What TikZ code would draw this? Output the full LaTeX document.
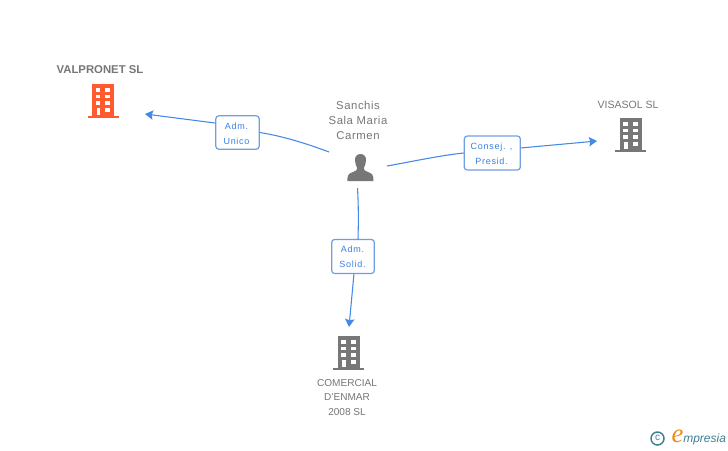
\documentclass[tikz,border=0pt]{standalone}
\usepackage{fontspec}
\setmainfont{Liberation Sans}
\newfontfamily\spaced[LetterSpace=5]{Liberation Sans}
\newfontfamily\lblfont[LetterSpace=8]{Liberation Sans}
\newfontfamily\logofont{Liberation Serif}
\usetikzlibrary{arrows.meta}
\definecolor{gray1}{HTML}{777777}
\definecolor{orange1}{HTML}{FF5B2E}
\definecolor{blue1}{HTML}{4488E8}
\definecolor{box1}{HTML}{6F9FE2}
\definecolor{lbl1}{HTML}{3A7FE0}
\definecolor{teal1}{HTML}{3F7F96}
\definecolor{orange2}{HTML}{F08A1D}
\tikzset{
  x=0.75pt,y=-0.75pt,
  rel/.style={draw=box1,line width=0.9pt,rounded corners=2.2pt,fill=white,align=center,inner sep=0pt},
  reltext/.style={text=lbl1,align=center,inner sep=0pt,font=\lblfont\fontsize{6.75pt}{11.2pt}\selectfont},
  link/.style={draw=blue1,line width=0.8pt},
  linkend/.style={link,-{Stealth[length=6pt,width=7pt,inset=1pt]}},
  nametext/.style={text=gray1,align=center,inner sep=0pt,font=\fontsize{7.9pt}{11.2pt}\selectfont},
  anchorbox/.style={minimum width=23.25pt,minimum height=25.5pt,inner sep=0pt},
  pics/bldg/.style={code={
    \fill[#1] (-11,-34) rectangle (11,0);
    \fill[#1] (-15.5,-2.5) rectangle (15.5,0);
    \foreach \yy in {-30,-23.3,-16.7}{
      \fill[white] (-7.3,\yy) rectangle (-2.7,\yy+3.7);
      \fill[white] (2.3,\yy) rectangle (7.3,\yy+3.7);
    }
    \fill[white] (2.3,-10) rectangle (7.3,-6.3);
    \fill[white] (-6.5,-10) rectangle (-2.7,-3);
  }}
}
\begin{document}
\begin{tikzpicture}
\useasboundingbox (0,0) rectangle (728,450);
\fill[white] (0,0) rectangle (728,450);

% icons
\pic at (103,118) {bldg=orange1};
\pic at (630.5,152) {bldg=gray1};
\pic at (348.5,370) {bldg=gray1};
\node[anchorbox] (valpronet) at (103,101) {};
\node[anchorbox] (visasol) at (630.5,135) {};
\node[anchorbox] (comercial) at (348.5,353) {};

% person
\fill[gray1] (360.5,154) .. controls (356.6,154) and (354.8,157) .. (355,160.5)
  .. controls (355.2,164) and (356.2,166.3) .. (357.2,168) .. controls (357.4,170) and (356,171) .. (353,172)
  .. controls (348.5,173.5) and (347.3,175) .. (347.3,181) -- (373.5,181)
  .. controls (373.5,175) and (372.3,173.5) .. (368,172)
  .. controls (365,171) and (363.6,170) .. (363.8,168)
  .. controls (364.8,166.3) and (365.8,164) .. (366,160.5)
  .. controls (366.2,157) and (364.4,154) .. (360.5,154) -- cycle;
\node[minimum width=19.5pt,minimum height=21pt,inner sep=0pt] (person) at (360.5,167.5) {};

% labels
\node[nametext,font=\bfseries\fontsize{8.5pt}{11pt}\selectfont] (t1) at (100,70) {VALPRONET SL};
\node[nametext] (t2) at (628,104.5) {VISASOL SL};
\node[nametext,font=\fontsize{7.55pt}{11.2pt}\selectfont] (t3) at (347,397.5) {COMERCIAL\\D'ENMAR\\2008 SL};
\node[nametext,font=\spaced\fontsize{8.5pt}{11.4pt}\selectfont] (t4) at (358,120.5) {Sanchis\\Sala Maria\\Carmen};

% relation boxes
\node[rel,minimum width=32.5pt,minimum height=25pt] (r1) at (237.5,132.5) {};
\node[rel,minimum width=42pt,minimum height=25.5pt] (r2) at (492.3,153) {};
\node[rel,minimum width=32pt,minimum height=25.5pt] (r3) at (353,256.5) {};
\node[reltext] (l1) at (236.5,133.5) {Adm.\\Unico};
\node[reltext] (l2) at (491.5,153.5) {Consej. ,\\Presid.};
\node[reltext] (l3) at (352.5,257) {Adm.\\Solid.};

% free ends
\coordinate (a1) at (329,152);
\coordinate (a2) at (145,114);
\coordinate (b1) at (387,166);
\coordinate (b2) at (597,141);
\coordinate (c1) at (357.5,188);
\coordinate (c2) at (349,327);
\coordinate (c3) at (358,239.5);
\coordinate (c4) at (354,273.5);

\draw[link] (a1) .. controls (305,143) and (282,136) .. (r1.east);
\draw[linkend] (r1.157) -- (a2);
\draw[link] (b1) .. controls (415,161) and (440,155.5) .. (r2.west);
\draw[linkend] (r2.10) -- (b2);
\draw[link] (c1) .. controls (358.5,205) and (358.5,222) .. (c3);
\draw[linkend] (c4) -- (c2);

% logo
\draw[teal1,line width=1.1pt] (657.5,438.5) circle (6.5);
\node[text=teal1,inner sep=0pt,font=\fontsize{7.5pt}{8pt}\selectfont] (copy) at (657.5,438.2) {c};
\node[text=orange2,inner sep=0pt,font=\logofont\itshape\fontsize{20pt}{20pt}\selectfont] (logoe) at (677.5,436.5) {e};
\node[text=teal1,inner sep=0pt,anchor=west,font=\itshape\fontsize{9pt}{10pt}\selectfont] (logot) at (683,439) {mpresia};
\end{tikzpicture}
\end{document}
